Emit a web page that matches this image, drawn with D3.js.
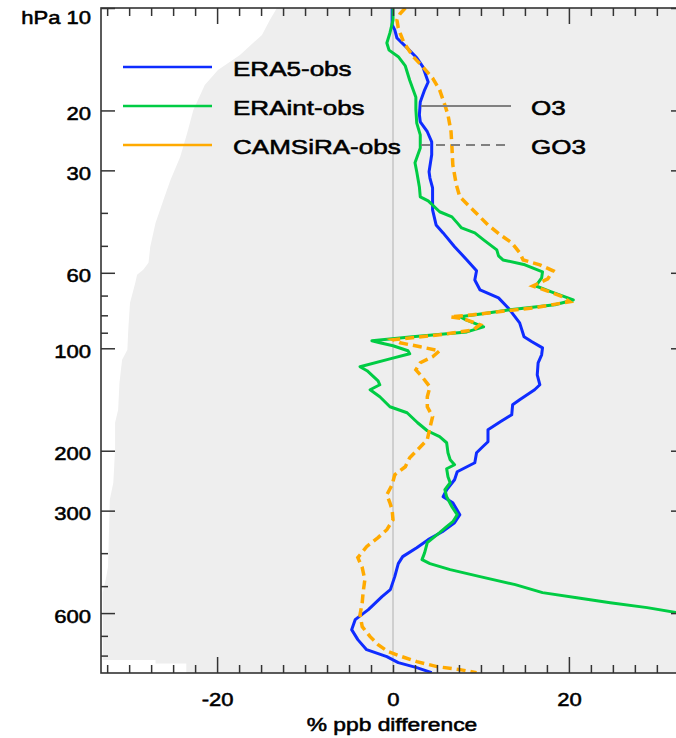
<!DOCTYPE html>
<html><head><meta charset="utf-8">
<script src="https://cdn.jsdelivr.net/npm/d3@7"></script>
<style>
body{margin:0;background:#fff}
svg{display:block}
text{font-family:"Liberation Sans",Arial,Helvetica,sans-serif;fill:#000;stroke:#000;stroke-width:0.55px}
</style>
</head><body>
<svg id="chart" width="676" height="738"></svg>
<script>
// ---- data: [pressure hPa, % ppb difference] ----
const era5 = [[10,-0.1],[11.2,-0.1],[11.6,0.2],[12.25,0.45],[13.1,1.6],[14.0,2.7],[14.9,3.4],[16.5,4.0],[17.4,3.6],[18.9,3.1],[20.6,3.0],[21.6,3.1],[23.1,3.9],[24.75,4.4],[27.0,4.4],[30.3,4.1],[31.6,4.2],[33.8,4.5],[36.65,4.5],[39.2,4.5],[43.4,4.9],[45.8,5.7],[50.3,7.0],[55.0,8.4],[59.2,9.5],[63.0,9.3],[67.4,9.9],[71.1,12.0],[76.1,13.1],[84.2,14.4],[92.5,14.9],[95.7,15.8],[99.7,17.0],[104.5,16.9],[110.3,16.5],[119.7,16.4],[128.0,16.7],[132.4,16.1],[141.7,14.4],[146.6,13.6],[156.8,13.5],[164.4,12.2],[173.5,10.8],[188.2,10.8],[194.7,10.2],[202.8,9.5],[216.9,9.3],[230.6,7.3],[243.4,7.0],[260.4,6.1],[273.1,5.7],[284.4,6.8],[308.3,7.6],[325.5,7.0],[345.9,5.6],[365.1,4.0],[385.4,2.7],[409.5,1.1],[429.4,0.6],[468.9,0.2],[512,-0.3],[536.8,-1.25],[586.2,-2.8],[627.3,-4.3],[671.2,-4.7],[718.1,-4.0],[768.4,-3.0],[805.6,-0.7],[838.9,0.6],[867.8,2.7],[897.6,4.4]];

const eraint = [[10,0],[10.85,0],[11.84,-0.35],[12.67,-0.7],[13.3,-0.45],[13.9,0.6],[14.8,1.4],[16.3,1.9],[18.3,2.6],[19.9,2.6],[21.8,2.7],[23.6,3.1],[25.8,3.1],[28.5,2.5],[30.3,2.7],[33.55,3.0],[35.9,3.1],[36.9,4.0],[39.7,5.3],[41.1,6.7],[42.8,7.3],[44.3,7.8],[45.8,9.3],[48.0,10.3],[51.4,11.8],[53.5,12.0],[55.0,12.5],[56.85,15.0],[59.6,17.0],[62.1,16.9],[65.6,16.25],[68.3,18.0],[72.1,20.5],[74.5,18.4],[77.1,13.3],[79.2,10.2],[80.8,7.6],[82.5,8.3],[86.5,10.3],[89.5,8.4],[92.5,2.2],[95.1,-2.4],[96.35,-1.5],[98.3,0],[101.7,1.7],[103.8,1.9],[107.4,-0.35],[113.3,-3.75],[116.4,-2.95],[124.6,-1.7],[128.0,-1.5],[132.4,-2.6],[138.8,-1.5],[148.5,-0.35],[154.7,1.6],[165.5,2.8],[174.7,3.9],[181.9,5.3],[189.5,6.1],[202.8,6.25],[212.6,6.5],[219.9,7.0],[225.9,6.1],[238.5,6.25],[248.4,6.5],[260.4,5.9],[273.1,6.1],[292.2,6.7],[308.3,7.3],[323.3,6.8],[334.4,6.1],[348.3,5.3],[372.6,3.9],[398.6,3.6],[417.9,3.3],[429.4,4.2],[447.2,6.5],[468.9,9.9],[495.0,13.9],[522.5,17.0],[540.5,20.9],[559.1,24.7],[578.3,28.9],[598.2,32.2],[614.7,35.0]];

const camsira = [[10,1.4],[10.4,0.8],[10.85,0.45],[11.45,0.6],[11.84,0.8],[12.67,1.25],[13.9,2.3],[14.9,3.4],[16.06,4.5],[17.4,5.3],[19.3,5.9],[20.6,6.25],[23.1,6.6],[25.6,6.7],[28.9,6.8],[33.1,7.2],[35.9,7.6],[37.4,8.3],[39.7,9.3],[43.4,10.8],[46.4,12.2],[49.0,13.5],[52.4,14.4],[55.0,14.8],[56.85,16.7],[59.2,18.2],[62.5,17.6],[65.6,15.9],[67.8,17.5],[70.6,19.3],[73.0,20.1],[76.1,15.9],[78.2,11.8],[79.7,9.1],[80.8,6.5],[81.9,8.0],[85.3,9.9],[88.3,9.1],[91.3,5.3],[94.4,0],[96.35,0.8],[99.0,3.1],[101.7,5.3],[105.9,4.5],[110.3,3.1],[115.7,2.6],[122.1,3.4],[129.8,4.2],[138.8,3.9],[148.5,3.9],[158.9,4.5],[171.2,4.2],[185.6,3.9],[198.7,2.8],[209.7,1.9],[222.9,1.4],[235.3,0.2],[251.8,-0.1],[269.4,-0.7],[284.4,-0.35],[298.2,-0.1],[319.0,0],[341.3,-0.7],[360.2,-1.7],[382.8,-3.0],[412.3,-4.0],[441.1,-3.5],[478.5,-3.2],[522.5,-3.4],[559.1,-3.5],[606.4,-3.75],[657.7,-3.5],[703.7,-2.6],[742.8,-1.7],[778.8,-0.55],[805.6,1.0],[833.2,2.7],[861.9,5.0],[879.6,7.6],[897.6,9.5]];

// grey background region: left boundary [pressure, x-value]
const greyEdge = [[10,-13.2],[10.85,-14.0],[12.0,-14.9],[13.74,-17.4],[15.21,-19.9],[16.83,-21.4],[19.93,-22.7],[23.29,-23.4],[27.39,-24.2],[32.0,-25.3],[36.65,-26.1],[42.81,-27.0],[50.33,-27.6],[56.1,-27.8],[58.8,-28.4],[60.8,-29.1],[64.2,-29.3],[73.5,-29.9],[88.27,-30.1],[101,-30.2],[108.1,-30.8],[126.3,-31.1],[151.6,-31.25],[165.5,-31.6],[198.7,-31.6],[248.4,-31.8],[278.6,-32.2],[438.4,-32.4],[468.9,-32.6],[522.5,-33.0],[824.7,-33.0],[824.7,-27.0],[844.5,-27.0],[844.5,-23.5],[900,-23.5],[900,40],[10,40]];

const seriesNames = ["ERA5-obs","ERAint-obs","CAMSiRA-obs"];
const seriesColors = ["#0f2cff","#00cc44","#ffaa00"];
const styleNames = ["O3","GO3"];
const yMajorTicks = [10,20,30,60,100,200,300,600];
const yMinorTicks = [40,50,70,80,90,400,500,700,800];
const xLabelTicks = [-20,0,20];
const xMajorTicks = [-20,20];
const xTitle = "% ppb difference";

// ---- layout ----
const X0 = 101, X1 = 685, Y0 = 8, Y1 = 673;
const x = d3.scaleLinear().domain([-33.2, 33.2]).range([X0, X1]);
const y = d3.scaleLog().domain([10, 900]).range([Y0, Y1]);
const svg = d3.select("#chart");
const SX = 1.16;

svg.append("defs").append("clipPath").attr("id","clip")
  .append("rect").attr("x",X0).attr("y",Y0).attr("width",X1-X0).attr("height",Y1-Y0);

const plot = svg.append("g").attr("clip-path","url(#clip)");

// grey area
plot.append("path")
  .attr("d", d3.line().x(d=>x(d[1])).y(d=>y(d[0]))(greyEdge) + "Z")
  .attr("fill","#eeeeee");

// zero line
plot.append("line").attr("x1",x(0)).attr("x2",x(0)).attr("y1",Y0).attr("y2",Y1)
  .attr("stroke","#c4c4c4").attr("stroke-width",1.5);

const line = d3.line().x(d=>x(d[1])).y(d=>y(d[0]));
plot.append("path").attr("d",line(era5)).attr("fill","none")
  .attr("stroke",seriesColors[0]).attr("stroke-width",3).attr("stroke-linejoin","round");
plot.append("path").attr("d",line(eraint)).attr("fill","none")
  .attr("stroke",seriesColors[1]).attr("stroke-width",3).attr("stroke-linejoin","round");
plot.append("path").attr("d",line(camsira)).attr("fill","none")
  .attr("stroke",seriesColors[2]).attr("stroke-width",3.5).attr("stroke-dasharray","9,5");

// axes ticks
const tickStroke = "#333";
function styleAxis(g){ g.select(".domain").remove(); g.selectAll("line").attr("stroke",tickStroke).attr("stroke-width",1.5); }

svg.append("g").attr("transform",`translate(${X0},0)`)
  .call(d3.axisLeft(y).tickValues(yMinorTicks).tickSize(-7).tickFormat(""))
  .call(styleAxis);
svg.append("g").attr("transform",`translate(${X1},0)`)
  .call(d3.axisRight(y).tickValues(yMinorTicks).tickSize(-7).tickFormat(""))
  .call(styleAxis);
svg.append("g").attr("transform",`translate(${X1},0)`)
  .call(d3.axisRight(y).tickValues(yMajorTicks).tickSize(-14).tickFormat(""))
  .call(styleAxis);
const yAx = svg.append("g").attr("transform",`translate(${X0},0)`)
  .call(d3.axisLeft(y).tickValues(yMajorTicks).tickSize(-14).tickFormat(d => d===10 ? "hPa 10" : String(d)))
  .call(styleAxis);
yAx.selectAll("text")
  .attr("x",0).attr("dy",null)
  .attr("y", d => d===10 ? 15 : 9)
  .attr("transform","translate(-10,0) scale(" + SX + ",1)")
  .attr("font-size",19).attr("fill","#000")
  .attr("font-family",'"Liberation Sans",Arial,sans-serif');

const xMinor = d3.range(-32.5, 33, 2.5).filter(v => xMajorTicks.indexOf(v) < 0);
svg.append("g").attr("transform",`translate(0,${Y1})`)
  .call(d3.axisBottom(x).tickValues(xMinor).tickSize(-8).tickFormat("")).call(styleAxis);
svg.append("g").attr("transform",`translate(0,${Y1})`)
  .call(d3.axisBottom(x).tickValues(xMajorTicks).tickSize(-16).tickFormat("")).call(styleAxis);
svg.append("g").attr("transform",`translate(0,${Y0})`)
  .call(d3.axisTop(x).tickValues(xMinor).tickSize(-8).tickFormat("")).call(styleAxis);
svg.append("g").attr("transform",`translate(0,${Y0})`)
  .call(d3.axisTop(x).tickValues(xMajorTicks).tickSize(-16).tickFormat("")).call(styleAxis);
const xAx = svg.append("g").attr("transform",`translate(0,${Y1})`)
  .call(d3.axisBottom(x).tickValues(xLabelTicks).tickSize(0).tickFormat(d => String(d)));
xAx.select(".domain").remove();
xAx.selectAll("text").attr("y",0).attr("dy",null).attr("transform","translate(0,33) scale(" + SX + ",1)")
  .attr("font-size",19).attr("fill","#000").attr("font-family",'"Liberation Sans",Arial,sans-serif');

// frame
svg.append("rect").attr("x",X0).attr("y",Y0).attr("width",X1-X0).attr("height",Y1-Y0)
  .attr("fill","none").attr("stroke",tickStroke).attr("stroke-width",1.6);

// x title
svg.append("text").attr("transform",`translate(${(X0+X1)/2 - 1},731) scale(1.2,1)`)
  .attr("text-anchor","middle").attr("font-size",19).text(xTitle);

// legend
const LSX = 1.24;
const legY = [67,106,145];
seriesNames.forEach((n,i) => {
  svg.append("line").attr("x1",123).attr("x2",212).attr("y1",legY[i]).attr("y2",legY[i])
    .attr("stroke",seriesColors[i]).attr("stroke-width",2.5);
  svg.append("text").attr("transform",`translate(233,${legY[i]+9}) scale(${LSX},1)`)
    .attr("font-size",21).text(n);
});
styleNames.forEach((n,i) => {
  svg.append("line").attr("x1",421).attr("x2",i===0?511:506).attr("y1",legY[i+1]).attr("y2",legY[i+1])
    .attr("stroke","#808080").attr("stroke-width",2)
    .attr("stroke-dasharray", i===0 ? null : "9,6");
  svg.append("text").attr("transform",`translate(531,${legY[i+1]+9}) scale(${LSX},1)`)
    .attr("font-size",21).text(n);
});
</script>
</body></html>
